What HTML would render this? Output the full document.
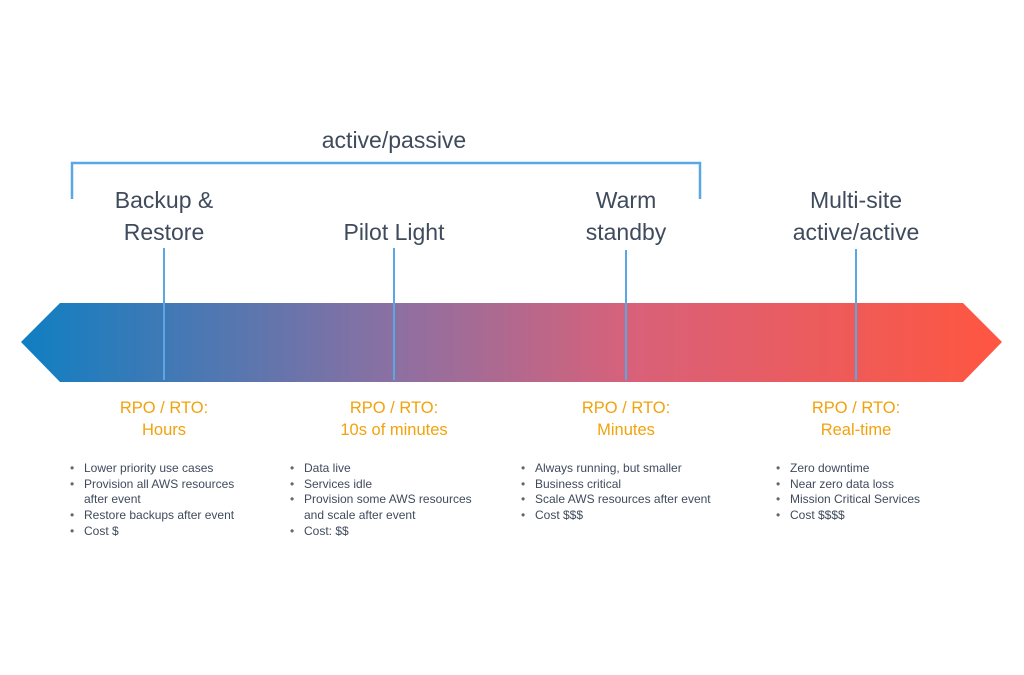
<!DOCTYPE html>
<html><head><style>
body{margin:0;width:1024px;height:675px;background:#fff;position:relative;font-family:"Liberation Sans",sans-serif;overflow:hidden}
.t{position:absolute;color:#3f4b5c;font-size:23px;text-align:center;line-height:32px;width:240px}
.r{position:absolute;color:#f2a20c;font-size:16.5px;text-align:center;line-height:22px;width:240px}
ul{position:absolute;margin:0;padding:0 0 0 14px;list-style:none;font-size:12px;line-height:15.7px;color:#3f4b5c}
li{position:relative}
li:before{content:"•";position:absolute;left:-14px;color:#666}
</style></head><body>
<svg width="1024" height="675" style="position:absolute;left:0;top:0">
<defs><linearGradient id="g" x1="21" x2="1002" y1="0" y2="0" gradientUnits="userSpaceOnUse">
<stop offset="0" stop-color="#0f7fc2"/><stop offset="0.38" stop-color="#8c70a2"/><stop offset="0.62" stop-color="#d8617a"/><stop offset="1" stop-color="#ff5640"/></linearGradient></defs>
<polygon points="21,342 60,303 963,303 1002,342 963,382 60,382" fill="url(#g)"/>
<polyline points="72,199 72,163 700,163 700,199" fill="none" stroke="#5aa7e6" stroke-width="2.5"/>
<g stroke="#5aa7e6" stroke-width="2"><line x1="164" y1="248" x2="164" y2="380"/><line x1="394" y1="248" x2="394" y2="380"/><line x1="626" y1="250" x2="626" y2="380"/><line x1="856" y1="249" x2="856" y2="380"/></g>
</svg>
<div class="t" style="left:274px;top:124px">active/passive</div>
<div class="t" style="left:44px;top:184px">Backup &amp;<br>Restore</div>
<div class="t" style="left:274px;top:216px">Pilot Light</div>
<div class="t" style="left:506px;top:184px">Warm<br>standby</div>
<div class="t" style="left:736px;top:184px">Multi-site<br>active/active</div>
<div class="r" style="left:44px;top:397px">RPO / RTO:<br>Hours</div>
<div class="r" style="left:274px;top:397px">RPO / RTO:<br>10s of minutes</div>
<div class="r" style="left:506px;top:397px">RPO / RTO:<br>Minutes</div>
<div class="r" style="left:736px;top:397px">RPO / RTO:<br>Real-time</div>
<ul style="left:70px;top:461px"><li>Lower priority use cases</li><li>Provision all AWS resources<br>after event</li><li>Restore backups after event</li><li>Cost $</li></ul>
<ul style="left:290px;top:461px"><li>Data live</li><li>Services idle</li><li>Provision some AWS resources<br>and scale after event</li><li>Cost: $$</li></ul>
<ul style="left:521px;top:461px"><li>Always running, but smaller</li><li>Business critical</li><li>Scale AWS resources after event</li><li>Cost $$$</li></ul>
<ul style="left:776px;top:461px"><li>Zero downtime</li><li>Near zero data loss</li><li>Mission Critical Services</li><li>Cost $$$$</li></ul>
</body></html>
